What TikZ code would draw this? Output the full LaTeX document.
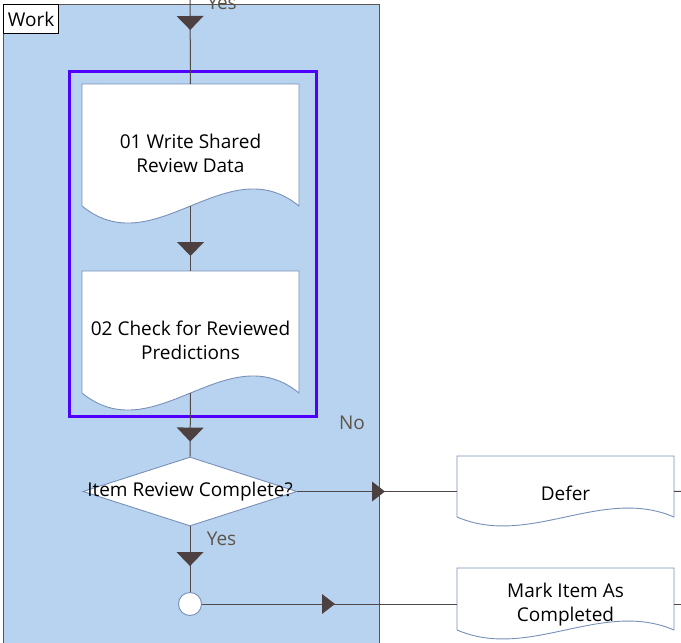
\documentclass[tikz,border=0pt]{standalone}
\usepackage{fontspec}
\setmainfont{Open Sans}
\usetikzlibrary{calc,shapes.geometric,decorations.markings}
\definecolor{lanefill}{RGB}{184,211,239}
\definecolor{laneline}{RGB}{90,84,84}
\definecolor{connline}{RGB}{80,72,72}
\definecolor{tipfill}{RGB}{77,64,64}
\definecolor{shapeline}{RGB}{120,144,184}
\definecolor{groupline}{RGB}{80,0,255}
\definecolor{labelcol}{RGB}{94,84,72}
\tikzset{
  x=1pt, y=-1pt,
  every node/.style={font=\fontsize{19}{24}\selectfont},
  conn/.style={draw=connline, line width=1pt},
  docshape/.style={fill=white, draw=shapeline, line width=0.9pt},
  doctext/.style={align=center, inner sep=0pt, text=black},
  decision/.style={diamond, fill=white, draw=shapeline, line width=0.9pt, minimum width=214pt, minimum height=69pt, inner sep=0pt},
  junction/.style={circle, fill=white, draw=shapeline, line width=0.9pt, minimum size=23pt, inner sep=0pt},
  flowlabel/.style={text=labelcol, anchor=base, inner sep=0pt},
  downmarkstart/.style={postaction={decorate,decoration={markings,mark=at position #1pt with {\fill[tipfill] (0,0) -- (-14,13.5) -- (-14,-13.5) -- cycle;}}}},
  downmarkend/.style={postaction={decorate,decoration={markings,mark=at position -#1pt with {\fill[tipfill] (0,0) -- (-14,13.5) -- (-14,-13.5) -- cycle;}}}},
  rightmarkend/.style={postaction={decorate,decoration={markings,mark=at position -#1pt with {\fill[tipfill] (0,0) -- (-13,10) -- (-13,-10) -- cycle;}}}},
}
\newcommand\docbox[8]{%
  \coordinate (#1-nw) at (#2,#4);
  \coordinate (#1-ne) at (#3,#4);
  \coordinate (#1-se) at (#3,#5);
  \coordinate (#1-sw) at (#2,#5);
  \coordinate (#1-n) at ($(#1-nw)!0.5!(#1-ne)$);
  \coordinate (#1-s) at ($(#1-sw)!0.5!(#1-se)$);
  \path[docshape] (#1-nw) -- (#1-ne) -- (#1-se) .. controls +({-(#3-#2)/3},-#6) and +({(#3-#2)/3},#6) .. (#1-sw) -- cycle;
  \node[doctext] (#1) at ({(#2+#3)/2},#7) {#8};
}
\begin{document}
\begin{tikzpicture}
\useasboundingbox (0,0) rectangle (681,643);
% lane
\path[fill=lanefill, draw=laneline, line width=1pt] (3,4) rectangle (379,660);
\node[draw=black, fill=white, line width=0.8pt, minimum width=55pt, minimum height=29pt, inner sep=0pt, anchor=north west] (work) at (3.3,4.3) {Work};
% shapes
\docbox{d1}{82}{299}{84}{206}{59}{153.5}{01 Write Shared\\Review Data}
\docbox{d2}{82}{299}{271}{393}{59}{340.5}{02 Check for Reviewed\\Predictions}
\docbox{df}{457}{674}{456}{517}{31}{493}{Defer}
\docbox{mk}{457}{674}{568}{630}{31}{605}{Mark Item As\\Completed}
\node[decision] (dia) at (190,491.5) {};
\node[doctext] (diat) at (dia.center) {Item Review Complete?};
\node[junction] (jn) at (190,604) {};
% group
\draw[draw=groupline, line width=3pt] (69,71) rectangle (316,416);
% connectors
\coordinate (topin) at (190,-5);
\coordinate (outA) at (690,491);
\coordinate (outB) at (690,604);
\draw[conn, downmarkstart=35] (topin) -- (d1-n);
\draw[conn, downmarkend=15] (d1-s) -- (d2-n);
\draw[conn, downmarkend=15] (d2-s) -- (dia.north);
\draw[conn, rightmarkend=72] (dia.east) -- (dia.east -| df-sw);
\draw[conn, downmarkend=26] (dia.south) -- (jn.north);
\draw[conn, rightmarkend=122] (jn.east) -- (jn.east -| mk-sw);
\draw[conn] (dia.east -| df-se) -- (outA);
\draw[conn] (jn.east -| mk-se) -- (outB);
% labels
\node[flowlabel] (yes1) at (222,9) {Yes};
\node[flowlabel] (no1) at (352,429) {No};
\node[flowlabel] (yes2) at (221.5,545.7) {Yes};
\end{tikzpicture}
\end{document}
